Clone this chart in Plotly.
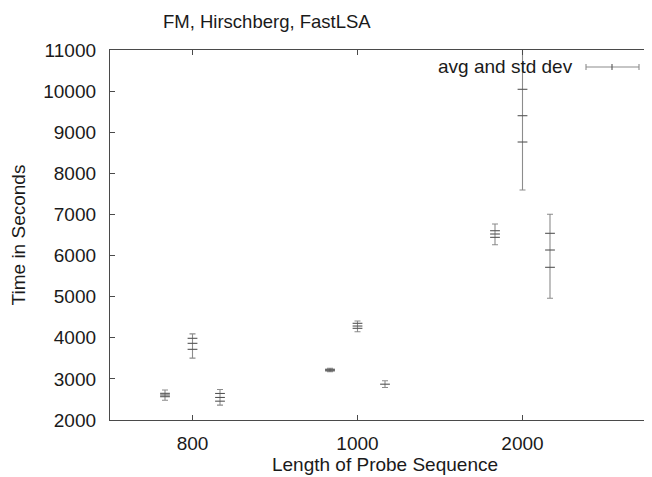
import plotly.graph_objects as go

# ---- data ----
categories = ["800", "1000", "2000"]
algorithms = ["FM", "Hirschberg", "FastLSA"]

fm_low = [2479, 3175, 6263]
fm_high = [2730, 3257, 6767]
fm_ticks = [[2649, 2608, 2567], [3235, 3215, 3195], [6604, 6524, 6443]]

hir_low = [3504, 4147, 7595]
hir_high = [4095, 4408, 11200]
hir_ticks = [[3987, 3865, 3719], [4352, 4286, 4230], [10044, 9402, 8762]]

fast_low = [2361, 2790, 4960]
fast_high = [2742, 2953, 7003]
fast_ticks = [[2645, 2548, 2458], [2871], [6541, 6135, 5714]]

y_tick_vals = [2000, 3000, 4000, 5000, 6000, 7000, 8000, 9000, 10000, 11000]
y_tick_text = ["2000", "3000", "4000", "5000", "6000", "7000", "8000", "9000", "10000", "11000"]

# ---- styling / layout constants ----
W, H = 652, 477
OFF = 8  # page body margin: figure is drawn 8px right/down in the window
# plot area in window pixels: x 110..(660), y 50..420
L = 110 - OFF
T = 50 - OFF
B = H - (420 - OFF)
R = 0
UNIT_PX = 165.0
offsets = {"FM": -1 / 6, "Hirschberg": 0.0, "FastLSA": 1 / 6}
FONT = "Liberation Sans, Arial, Helvetica, sans-serif"
BAR_COLOR = "#8c8c8c"
TICK_COLOR = "#555555"
AXIS_COLOR = "#4a4a4a"
TEXT = "#1a1a1a"
FS = 19

series = {
    "FM": (fm_low, fm_high, fm_ticks),
    "Hirschberg": (hir_low, hir_high, hir_ticks),
    "FastLSA": (fast_low, fast_high, fast_ticks),
}

fig = go.Figure()
for alg in algorithms:
    low, high, ticks = series[alg]
    xs = [i + 1 + offsets[alg] for i in range(len(categories))]
    mids = [(lo + hi) / 2 for lo, hi in zip(low, high)]
    fig.add_trace(go.Scatter(
        x=xs, y=mids, mode="markers", name=alg, showlegend=False,
        marker=dict(size=1, color="rgba(0,0,0,0)"),
        error_y=dict(type="data", symmetric=False,
                     array=[hi - m for hi, m in zip(high, mids)],
                     arrayminus=[m - lo for lo, m in zip(low, mids)],
                     color=BAR_COLOR, thickness=1.1, width=3),
        hoverinfo="skip",
    ))
    tx, ty = [], []
    for x, tl in zip(xs, ticks):
        for v in tl:
            tx.append(x)
            ty.append(v)
    fig.add_trace(go.Scatter(
        x=tx, y=ty, mode="markers", showlegend=False,
        marker=dict(symbol="line-ew", size=7,
                    line=dict(width=1.1, color=TICK_COLOR)),
        hoverinfo="skip",
    ))

pw = W - L - R
ph = H - T - B


def px(x):
    """window x pixel -> paper x"""
    return (x - OFF - L) / pw


def py(y):
    """window y pixel -> paper y"""
    return (H - B - (y - OFF)) / ph


# manual key: text on the left, error-bar sample on the right
key_y = 67
fig.add_annotation(x=px(575), y=py(key_y), xref="paper", yref="paper",
                   text="avg and std dev", showarrow=False, xanchor="right",
                   yanchor="middle", font=dict(family=FONT, size=FS, color=TEXT))
shapes = [
    dict(type="line", xref="paper", yref="paper", x0=px(586), x1=px(639),
         y0=py(key_y), y1=py(key_y), line=dict(color=BAR_COLOR, width=1.1)),
]
for xx in (586, 612, 639):
    shapes.append(dict(type="line", xref="paper", yref="paper", x0=px(xx), x1=px(xx),
                       y0=py(key_y - 3), y1=py(key_y + 3),
                       line=dict(color=BAR_COLOR if xx != 612 else TICK_COLOR, width=1.1)))

fig.update_layout(
    width=W, height=H,
    margin=dict(l=L, r=R, t=T, b=B),
    paper_bgcolor="white", plot_bgcolor="white",
    font=dict(family=FONT, size=FS, color=TEXT),
    title=dict(text="FM, Hirschberg, FastLSA", x=(163 - OFF) / W, xanchor="left",
               y=1 - (22 - OFF) / H, yanchor="middle", xref="container", yref="container",
               font=dict(family=FONT, size=18.5, color=TEXT)),
    shapes=shapes,
    xaxis=dict(range=[0.5, 0.5 + pw / UNIT_PX], tickmode="array",
               tickvals=[1, 2, 3], ticktext=categories,
               ticks="inside", ticklen=5, tickcolor=AXIS_COLOR, tickwidth=1.2,
               showline=True, linecolor=AXIS_COLOR, linewidth=1.3, mirror="ticks",
               showgrid=False, zeroline=False, automargin=False,
               ticklabelstandoff=6,
               title=dict(text="Length of Probe Sequence", standoff=4,
                          font=dict(family=FONT, size=FS, color=TEXT)),
               tickfont=dict(family=FONT, size=FS, color=TEXT)),
    yaxis=dict(range=[2000, 11000], tickmode="array", tickvals=y_tick_vals,
               ticktext=y_tick_text,
               ticks="inside", ticklen=5, tickcolor=AXIS_COLOR, tickwidth=1.2,
               showline=True, linecolor=AXIS_COLOR, linewidth=1.3, mirror=False,
               showgrid=False, zeroline=False, automargin=False,
               ticklabelstandoff=9,
               title=dict(text="Time in Seconds", standoff=12,
                          font=dict(family=FONT, size=FS, color=TEXT)),
               tickfont=dict(family=FONT, size=FS, color=TEXT)),
)

fig.write_html("out.html")
